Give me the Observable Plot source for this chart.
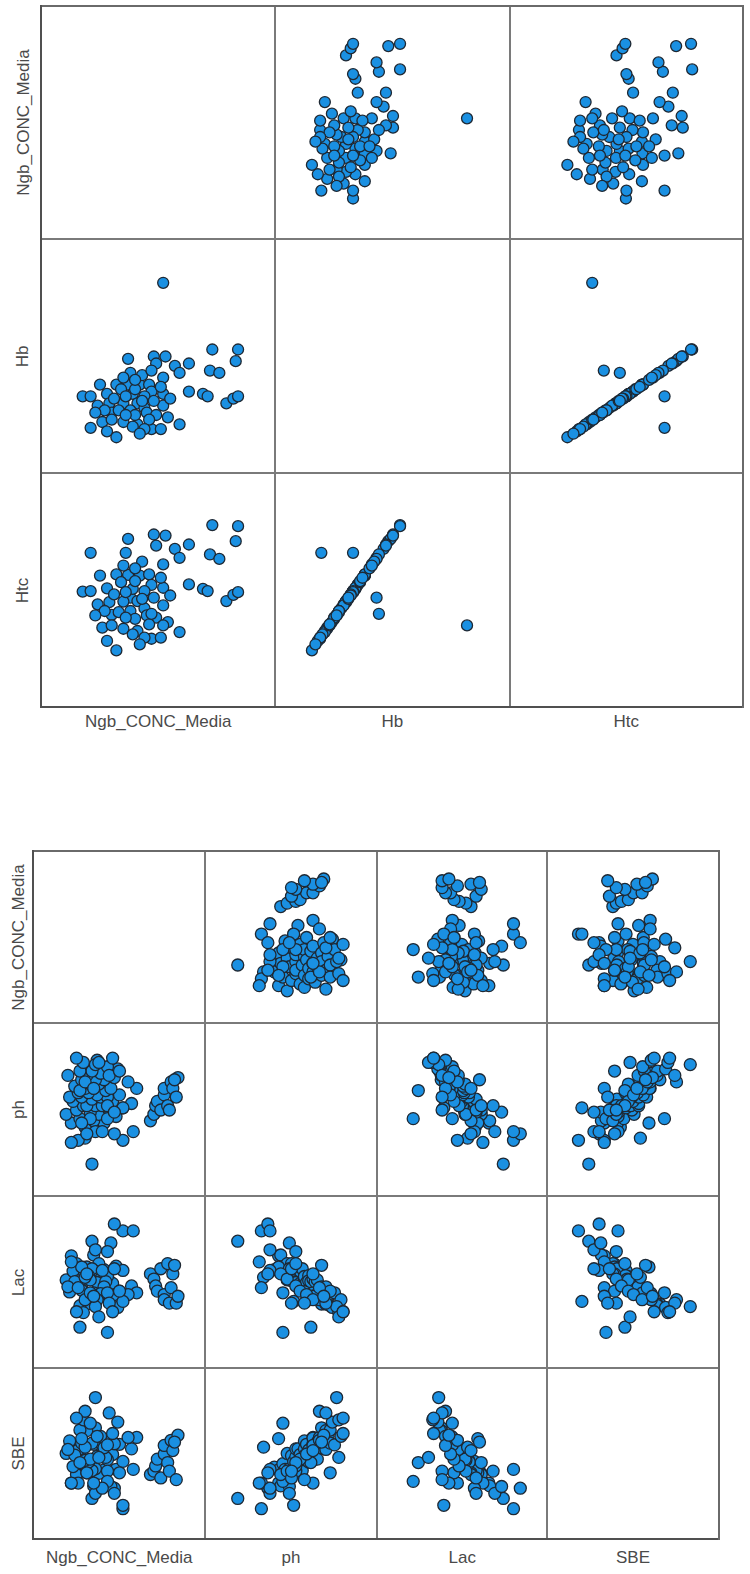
<!DOCTYPE html>
<html>
<head>
<meta charset="utf-8">
<script src="https://cdn.jsdelivr.net/npm/d3@7"></script>
<script src="https://cdn.jsdelivr.net/npm/@observablehq/plot@0.6"></script>
<style>
  html, body { margin: 0; padding: 0; background: #fff; }
  #root { position: relative; width: 750px; height: 1574px; background: #fff; overflow: hidden; }
  .cell { position: absolute; }
  .cell svg { display: block; overflow: visible; background: transparent; }
  .line { position: absolute; background: #6e6e6e; }
  .lab { position: absolute; font-family: "Liberation Sans", Arial, sans-serif; font-size: 17px; color: #4a4a4a; white-space: nowrap; line-height: 1; }
</style>
</head>
<body>
<div id="root"></div>
<script>
// ---------- Top matrix data (one entry per case) ----------
const topVars = ["Ngb_CONC_Media", "Hb", "Htc"];
const ngbA = [36.5,42.0,41.5,18.5,24.0,26.5,31.5,28.5,29.5,24.5,36.0,38.0,19.0,26.0,12.5,16.0,18.5,21.0,23.0,31.5,34.5,35.5,8.8,10.5,14.0,18.0,19.5,23.5,26.0,39.5,41.0,42.0,12.0,14.5,17.5,20.5,22.0,26.0,10.5,13.0,15.0,17.5,20.5,22.5,24.5,27.0,29.5,14.0,16.0,23.5,25.5,26.0,17.0,20.0,22.0,18.0,15.5,21.5,19.0,16.5,13.5,20.0,18.0,15.0,23.0,19.5,21.5,20.0,17.5,23.5,25.5,27.5,24.0,11.5,22.0,21.0];
const hb = [15.6,15.6,14.6,14.8,15.0,15.0,14.4,14.2,13.6,14.4,13.8,13.6,13.6,13.2,12.6,12.6,12.6,12.6,12.6,12.0,11.8,11.6,11.6,11.6,11.8,11.6,11.8,12.0,11.8,11.0,11.4,11.6,10.8,11.0,11.0,11.0,10.6,10.8,8.9,9.4,10.2,9.4,9.2,10.2,10.0,9.8,9.2,8.6,8.1,8.8,8.8,21.3,12.2,12.2,11.6,11.6,11.4,11.2,10.4,10.4,10.4,10.0,10.0,9.6,9.6,9.0,13.4,13.0,13.2,13.8,12.4,11.4,11.2,10.2,8.8,8.4];
const htc = [46.8,46.6,43.9,44.3,45.1,44.9,43.3,42.5,40.9,43.1,41.5,40.7,33.7,39.7,37.7,37.9,37.8,37.7,37.9,36.1,35.3,34.9,34.8,34.9,35.4,41.8,35.3,36.0,35.5,33.1,34.2,34.7,32.5,32.9,33.0,33.1,31.8,32.3,41.8,28.3,30.6,28.1,27.7,30.5,30.1,29.3,27.5,25.9,24.2,26.3,26.5,28.7,36.5,36.7,34.9,34.7,34.3,33.5,31.3,31.1,31.3,29.9,30.1,28.7,28.9,27.1,40.2,39.0,39.5,30.8,37.3,34.1,33.7,30.5,26.5,25.3];

// ---------- Bottom matrix data (one entry per case) ----------
const bottomVars = ["Ngb_CONC_Media", "ph", "Lac", "SBE"];
const ngbB = [15.0,11.0,20.5,17.5,13.5,24.0,19.0,9.5,16.5,22.0,12.5,26.0,18.0,14.5,20.0,15.5,28.5,11.5,23.0,17.0,14.0,19.5,21.5,10.5,18.5,25.0,16.0,13.0,21.0,17.5,30.0,15.0,22.5,12.0,19.0,16.5,27.5,14.0,20.5,18.0,23.5,15.5,10.0,19.5,17.0,13.5,24.5,21.5,14.5,18.5,
  17.0,26.0,23.5,29.0,18.0,22.5,21.5,15.0,13.0,26.0,21.5,13.5,
  18.0,15.0,22.0,12.5,25.0,19.0,23.0,16.5,14.0,
  11.0,20.0,15.5,23.5,17.5,
  34.0,35.0,35.5,36.0,37.0,38.0,38.0,39.0,39.5,40.0,40.5,41.5,42.0,41.0];
const ph = [7.12,7.14,7.14,7.15,7.16,7.17,7.18,7.18,7.19,7.20,7.20,7.21,7.22,7.22,7.22,7.22,7.23,7.24,7.24,7.25,7.26,7.26,7.26,7.26,7.27,7.27,7.28,7.28,7.29,7.30,7.30,7.30,7.30,7.31,7.32,7.32,7.33,7.34,7.34,7.34,7.35,7.36,7.36,7.37,7.38,7.38,7.39,7.40,7.42,7.43,
  6.95,7.06,7.09,7.10,7.10,7.19,7.22,7.07,7.06,7.21,7.16,7.29,
  7.41,7.33,7.36,7.44,7.38,7.42,7.44,7.16,7.14,
  7.05,7.10,7.09,7.19,7.30,
  7.15,7.18,7.22,7.24,7.20,7.27,7.30,7.22,7.20,7.33,7.30,7.26,7.35,7.34];
const lac = [11.5,13.1,11.5,13.2,11.5,11.9,12.2,10.3,11.3,10.2,12.2,11.4,11.3,10.1,10.0,11.8,9.6,11.3,9.9,11.6,9.8,10.4,10.7,8.9,10.0,9.0,10.8,10.2,10.1,8.8,8.8,10.4,8.4,10.1,8.5,10.3,8.6,9.1,9.5,7.5,8.6,7.5,9.5,8.7,8.6,7.3,7.1,8.8,6.5,8.0,
  14.8,16.0,16.8,16.0,13.8,14.6,13.6,10.6,9.4,7.8,4.2,4.8,
  7.2,8.0,7.6,6.6,9.0,6.0,6.6,8.8,11.8,
  12.4,11.4,11.0,11.6,8.4,
  11.0,10.4,9.6,9.0,11.6,8.6,8.0,12.2,7.6,9.4,11.0,7.6,8.4,12.0];
const sbe = [-12.3,-15.1,-12.8,-15.6,-11.7,-12.7,-13.4,-9.9,-12.6,-10.3,-13.6,-11.3,-12.6,-10.5,-9.1,-13.3,-9.1,-12.2,-10.1,-12.9,-9.1,-10.3,-11.0,-7.7,-10.4,-8.3,-11.4,-9.3,-10.6,-8.3,-7.1,-11.1,-7.2,-10.2,-7.9,-10.9,-7.1,-8.1,-8.9,-5.4,-8.2,-5.9,-9.2,-6.9,-8.1,-5.8,-4.4,-8.4,-4.0,-6.9,
  -17.8,-19.6,-16.0,-12.7,-16.9,-15.7,-13.0,-8.8,-15.1,-19.0,-14.8,-11.5,
  -0.1,-2.5,-2.8,-3.7,-13.3,-10.6,-6.4,-4.6,-7.3,
  -15.1,-16.0,-13.3,-16.9,-15.1,
  -13.6,-13.0,-12.1,-10.9,-14.2,-10.0,-8.5,-11.5,-13.0,-7.6,-9.4,-14.5,-6.7,-7.9];

// ---------- Build tables ----------
const topData = ngbA.map((v, i) => ({"Ngb_CONC_Media": v, "Hb": hb[i], "Htc": htc[i]}));
const bottomData = ngbB.map((v, i) => ({"Ngb_CONC_Media": v, "ph": ph[i], "Lac": lac[i], "SBE": sbe[i]}));

const topDomains = {"Ngb_CONC_Media": [0, 50], "Hb": [5, 25], "Htc": [13.9, 56.1]};
const bottomDomains = {"Ngb_CONC_Media": [0, 50], "ph": [6.8, 7.6], "Lac": [0, 20], "SBE": [-25, 5]};

const root = document.getElementById("root");

function addLine(x, y, w, h, color) {
  const d = document.createElement("div");
  d.className = "line";
  Object.assign(d.style, {left: x + "px", top: y + "px", width: w + "px", height: h + "px"});
  if (color) d.style.background = color;
  root.appendChild(d);
}

function addLabel(text, cx, cy, rotate) {
  const d = document.createElement("div");
  d.className = "lab";
  d.textContent = text;
  root.appendChild(d);
  const w = d.offsetWidth, h = d.offsetHeight;
  d.style.left = (cx - w / 2) + "px";
  d.style.top = (cy - h / 2) + "px";
  if (rotate) d.style.transform = "rotate(-90deg)";
}

function matrix(data, vars, domains, cols, rows, r, labX, labY) {
  vars.forEach((vy, i) => {
    vars.forEach((vx, j) => {
      if (i === j) return;
      const w = Math.round(cols[j + 1] - cols[j]);
      const h = Math.round(rows[i + 1] - rows[i]);
      const cell = document.createElement("div");
      cell.className = "cell";
      Object.assign(cell.style, {left: cols[j] + "px", top: rows[i] + "px", width: w + "px", height: h + "px"});
      const p = Plot.plot({
        width: w, height: h, margin: 0,
        style: {background: "transparent", overflow: "visible"},
        x: {domain: domains[vx], axis: null},
        y: {domain: domains[vy], axis: null},
        marks: [
          Plot.dot(data, {x: vx, y: vy, r: r, fill: "#1a90e2", stroke: "#1e2833", strokeWidth: 1.3})
        ]
      });
      cell.appendChild(p);
      root.appendChild(cell);
    });
  });
  const x0 = cols[0], x1 = cols[cols.length - 1], y0 = rows[0], y1 = rows[rows.length - 1];
  // inner grid lines
  cols.slice(1, -1).forEach(c => addLine(c - 0.75, y0, 1.5, y1 - y0, "#7a7a7a"));
  rows.slice(1, -1).forEach(rr => addLine(x0, rr - 0.75, x1 - x0, 1.5, "#7a7a7a"));
  // outer frame
  addLine(x0 - 1, y0 - 1, x1 - x0 + 2, 2, "#6a6a6a");
  addLine(x0 - 1, y1 - 1, x1 - x0 + 2, 2, "#505050");
  addLine(x0 - 1, y0 - 1, 2, y1 - y0 + 2, "#505050");
  addLine(x1 - 1, y0 - 1, 2, y1 - y0 + 2, "#6a6a6a");
  // labels
  vars.forEach((v, j) => addLabel(v, (cols[j] + cols[j + 1]) / 2, labY, false));
  vars.forEach((v, i) => addLabel(v, labX, (rows[i] + rows[i + 1]) / 2, true));
}

matrix(topData, topVars, topDomains, [41, 275, 510, 743], [6, 239, 473, 707], 5.5, 23, 721);
matrix(bottomData, bottomVars, bottomDomains, [33, 205, 377, 547, 719], [851, 1023, 1196, 1368, 1539], 6, 18, 1557);
</script>
</body>
</html>
